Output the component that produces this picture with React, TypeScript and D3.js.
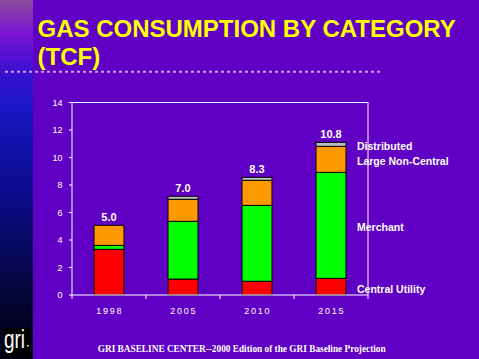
import React from "react";
import * as d3 from "d3";

// chart data (TCF)
const years = ["1998", "2005", "2010", "2015"];
const centralUtility = [3.32, 1.16, 1.0, 1.21];
const merchant = [0.29, 4.2, 5.52, 7.71];
const largeNonCentral = [1.46, 1.6, 1.82, 1.89];
const distributed = [0, 0.22, 0.22, 0.29];
const totalLabels = ["5.0", "7.0", "8.3", "10.8"];
const seriesNames = ["Central Utility", "Merchant", "Large Non-Central", "Distributed"];
const seriesColors = ["#ff0000", "#00ff00", "#ff9900", "#bcbcbc"];
const yTicks = [0, 2, 4, 6, 8, 10, 12, 14];

const W = 479;
const H = 359;
const m = { left: 72, right: 368, top: 102.5, bottom: 295 };

export default function App() {
  const rows = years.map((yr, i) => ({
    year: yr,
    "Central Utility": centralUtility[i],
    Merchant: merchant[i],
    "Large Non-Central": largeNonCentral[i],
    Distributed: distributed[i],
  }));
  const stacked = d3.stack<any>().keys(seriesNames)(rows);

  const x = d3.scaleBand().domain(years).range([m.left, m.right]).padding(0);
  const y = d3.scaleLinear().domain([0, 14]).range([m.bottom, m.top]);
  const barW = x.bandwidth() * 0.405;
  const bounds = [...years.map((d) => x(d)!), m.right];

  const last = years.length - 1;

  return (
    <svg width={W} height={H} style={{ position: "absolute", left: 0, top: 0 }}
      fontFamily="'Liberation Sans', Arial, sans-serif">
      <defs>
        <linearGradient id="strip" x1="0" y1="0" x2="0" y2="1">
          <stop offset="0" stopColor="#8c4c98" />
          <stop offset="0.09" stopColor="#7c14d4" />
          <stop offset="0.2" stopColor="#3a10d0" />
          <stop offset="0.3" stopColor="#1818c4" />
          <stop offset="0.42" stopColor="#1010a6" />
          <stop offset="0.56" stopColor="#0c0c86" />
          <stop offset="0.7" stopColor="#08085c" />
          <stop offset="0.85" stopColor="#040430" />
          <stop offset="1" stopColor="#000014" />
        </linearGradient>
      </defs>
      <rect width={W} height={H} fill="#6000c4" />
      <rect width={33} height={H} fill="url(#strip)" />

      {/* title */}
      <g fill="#ffff00" fontWeight="bold" fontSize={24}>
        <text x={37.5} y={36.5}>GAS CONSUMPTION BY CATEGORY</text>
        <text x={37.5} y={65}>(TCF)</text>
      </g>
      <line x1={5} x2={382} y1={71.7} y2={71.7} stroke="#c8a0ec" strokeWidth={2}
        strokeDasharray="3,3" />

      {/* bars */}
      {stacked.map((s, si) => (
        <g key={s.key} fill={seriesColors[si]} stroke="#000" strokeWidth={1}>
          {s.map((d, i) =>
            d[1] - d[0] > 0 ? (
              <rect key={i} x={x(years[i])! + (x.bandwidth() - barW) / 2} width={barW}
                y={y(d[1])} height={y(d[0]) - y(d[1])} />
            ) : null
          )}
        </g>
      ))}

      {/* frame + axes */}
      <rect x={m.left} y={m.top} width={m.right - m.left} height={m.bottom - m.top}
        fill="none" stroke="#fff" strokeWidth={1} />
      {yTicks.map((t) => (
        <g key={t}>
          <line x1={m.left - 3} x2={m.left} y1={y(t)} y2={y(t)} stroke="#fff" />
          <text x={62.5} y={y(t) + 3.3} textAnchor="end" fill="#fff" fontSize={9}>{t}</text>
        </g>
      ))}
      {bounds.map((b, i) => (
        <line key={i} x1={b} x2={b} y1={m.bottom} y2={m.bottom + 4} stroke="#fff" />
      ))}
      {years.map((yr) => (
        <text key={yr} x={x(yr)! + x.bandwidth() / 2 + 0.8} y={314} textAnchor="middle"
          fill="#fff" fontSize={9} letterSpacing={1.8}>{yr}</text>
      ))}

      {/* totals */}
      {years.map((yr, i) => (
        <text key={yr} x={x(yr)! + x.bandwidth() / 2} y={y(stacked[3][i][1]) - 4}
          textAnchor="middle" fill="#fff" fontWeight="bold" fontSize={11}>{totalLabels[i]}</text>
      ))}

      {/* series labels at the last bar */}
      {stacked.map((s) => (
        <text key={s.key} x={357} y={(y(s[last][0]) + y(s[last][1])) / 2 + 6}
          fill="#fff" fontWeight="bold" fontSize={10.5}>{s.key}</text>
      ))}

      {/* footer */}
      <text x={97.7} y={352} fill="#fff" fontWeight="bold" fontSize={10}
        fontFamily="'Liberation Serif', 'Times New Roman', serif"
        textLength={288} lengthAdjust="spacingAndGlyphs">
        GRI BASELINE CENTER--2000 Edition of the GRI Baseline Projection
      </text>

      {/* logo */}
      <rect x={3} y={328} width={27} height={28} fill="#000" />
      <text x={4} y={348} fill="#fff" fontSize={25} textLength={21} lengthAdjust="spacingAndGlyphs">gri</text>
      <rect x={27} y={345} width={1.5} height={1.5} fill="#fff" />
    </svg>
  );
}
